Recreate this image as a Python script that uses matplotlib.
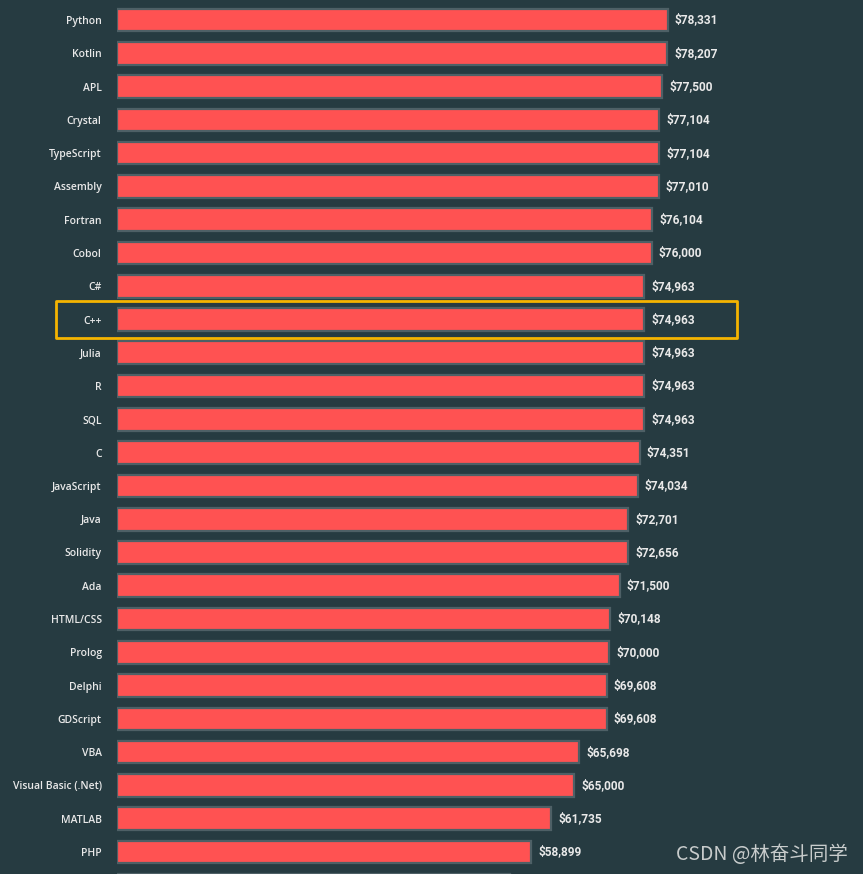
import numpy as np
import matplotlib
matplotlib.use("Agg")
import matplotlib.pyplot as plt
from matplotlib.patches import Rectangle
from matplotlib.transforms import blended_transform_factory

# languages and median salaries (USD); first and last rows are cut off at the edges
languages = ["Bash/Shell", "Python", "Kotlin", "APL", "Crystal", "TypeScript", "Assembly",
             "Fortran", "Cobol", "C#", "C++", "Julia", "R", "SQL", "C", "JavaScript",
             "Java", "Solidity", "Ada", "HTML/CSS", "Prolog", "Delphi", "GDScript",
             "VBA", "Visual Basic (.Net)", "MATLAB", "PHP", "Dart"]
salaries = [79300, 78331, 78207, 77500, 77104, 77104, 77010, 76104, 76000, 74963,
            74963, 74963, 74963, 74963, 74351, 74034, 72701, 72656, 71500, 70148,
            70000, 69608, 69608, 65698, 65000, 61735, 58899, 55900]
highlight = "C++"

bg = "#263b41"
bar_color = "#ff5252"
edge_color = "#4e6066"
text_color = "#e9e9e9"

W, H = 863, 874
fig = plt.figure(figsize=(W / 100, H / 100), dpi=100, facecolor=bg)
x0 = 117
px_per_dollar = 551 / 78331
ax = fig.add_axes([x0 / W, 0, 1 - x0 / W, 1])
ax.set_facecolor(bg)

ypos = np.arange(len(languages)) - 1  # Python at row 0
ax.barh(ypos, salaries, height=0.68, color=bar_color, edgecolor=edge_color,
        linewidth=1.6, zorder=2)

for y, v in zip(ypos, salaries):
    ax.annotate(f"${v:,}", xy=(v, y), xytext=(5, 0), textcoords="offset points",
                va="center", ha="left", color=text_color, fontsize=8.6,
                fontweight="bold", family="Roboto", clip_on=True)

ax.set_yticks(ypos)
ax.set_yticklabels(languages, family="Open Sans", fontsize=7.45, fontweight=600,
                   color=text_color)
ax.tick_params(axis="y", length=0, pad=11)
ax.set_xticks([])
for s in ax.spines.values():
    s.set_visible(False)

pitch = 33.28
ax.set_xlim(0, (W - x0) / px_per_dollar)
ax.set_ylim((H - 20) / pitch, -20 / pitch)

# highlight box around C++
hy = ypos[languages.index(highlight)]
tr = blended_transform_factory(fig.transFigure, ax.transData)
box = Rectangle((56 / W, hy - 0.555), (737 - 56) / W, 1.11, transform=tr,
                fill=False, edgecolor="#f5b400", linewidth=2.0, joinstyle="round",
                clip_on=False, zorder=5)
fig.add_artist(box)

fig.text(848 / W, 1 - 854 / H, "CSDN @林奋斗同学", ha="right", va="center",
         fontsize=14, color="#c8cccc", family=["Noto Sans CJK SC", "DejaVu Sans"])

fig.savefig("out.png", dpi=100, facecolor=bg)
